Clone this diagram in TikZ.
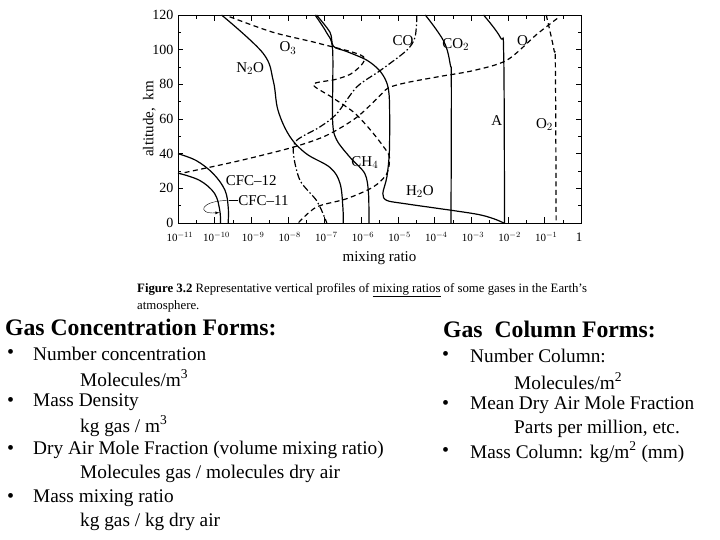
\documentclass[tikz,border=0pt]{standalone}
\usepackage{fontspec}
\setmainfont{Liberation Serif}
\begin{document}
\begin{tikzpicture}[x=1pt,y=-1pt,
  crv/.style={line width=1.2pt},
  dsh/.style={line width=1.2pt,dash pattern=on 5pt off 3.5pt},
  dd/.style={line width=1.2pt,dash pattern=on 7pt off 2.5pt on 1.5pt off 2.5pt},
  lab/.style={font=\fontsize{15}{15}\selectfont,inner sep=0pt},
  tk/.style={font=\fontsize{11}{11}\selectfont,inner sep=0pt},
  head/.style={font=\fontsize{23.7}{23.7}\selectfont\bfseries,inner sep=0pt,anchor=west},
  item/.style={font=\fontsize{19.3}{19.3}\selectfont,inner sep=0pt,anchor=west},
  bul/.style={font=\fontsize{20}{20}\selectfont,inner sep=0pt,anchor=west},
  capt/.style={font=\fontsize{12.8}{12.8}\selectfont,inner sep=0pt,anchor=west}]
\useasboundingbox (0,0) rectangle (720,540);
\fill[white] (0,0) rectangle (720,540);
\begin{scope}[shift={(178,223)},x=36.64pt,y=1.733pt]
 \draw[line width=0.9pt] (0,0) rectangle (11,120);
 \foreach \d in {0,...,11}{\draw (\d,0) -- (\d,3.5); \draw (\d,120) -- (\d,116.5);}
 \foreach \d in {0,...,10}{\draw (\d+0.5,0) -- (\d+0.5,2); \draw (\d+0.5,120) -- (\d+0.5,118);}
 \foreach \h in {0,20,...,120}{\draw (0,\h) -- (0.15,\h); \draw (11,\h) -- (10.85,\h);
   \node[tk,anchor=east,font=\fontsize{14}{14}\selectfont] (y\h) at (-0.12,\h) {\h};}
 \foreach \h in {10,30,...,110}{\draw (0,\h) -- (0.08,\h); \draw (11,\h) -- (10.92,\h);}
 \foreach \d/\t in {0/{-11},1/{-10},2/{-9},3/{-8},4/{-7},5/{-6},6/{-5},7/{-4},8/{-3},9/{-2},10/{-1}}
   {\node[tk] (x\d) at (\d+0.05,-8) {10$^{\t}$};}
 \node[tk,font=\fontsize{13}{13}\selectfont] (x11) at (10.95,-8) {1};
 \node[lab] (xl) at (5.5,-20) {mixing ratio};
 \node[lab,rotate=90] (yl) at (-0.78,60) {altitude,\ \ km};
 % N2O
 \draw[crv] plot[smooth,tension=0.6] coordinates{(1.19,120)(2.32,98)(2.6,82)(2.73,65)(3.05,50)(3.5,40)(4.15,32)(4.42,23)(4.5,9)(4.51,0)};
 % CH4
 \draw[crv] plot[smooth,tension=0.5] coordinates{(3.74,120)(4.05,110)(4.22,100)(4.22,59)(4.33,48)(4.69,38)(5.1,28.5)(5.2,17)(5.21,0)};
 % H2O
 \draw[crv] plot[smooth,tension=0.5] coordinates{(3.78,120)(4.15,110)(4.24,102)(4.6,99)(5.15,94)(5.5,88)(5.7,80.8)(5.77,70.8)(5.77,42)(5.7,26.5)(5.59,17)(5.7,13)(6.24,11)(8.07,5.4)(8.61,2.5)(8.89,0)};
 % CO2
 \draw[crv] plot[smooth,tension=0.6] coordinates{(6.75,120)(7.25,105)(7.43,91.5)(7.46,80)(7.45,0)};
 % A
 \draw[crv] plot[smooth,tension=0.6] coordinates{(8.34,120)(8.8,107)(8.89,96)(8.91,0)};
 % CFC-12, CFC-11
 \draw[crv] plot[smooth,tension=0.6] coordinates{(0,40)(0.5,36)(0.96,28.5)(1.28,19)(1.37,9.2)(1.37,0)};
 \draw[crv] plot[smooth,tension=0.6] coordinates{(0,28.8)(0.59,24.6)(1.0,17)(1.14,7.3)(1.16,0)};
 % O2
 \draw[dsh] plot[smooth,tension=0.6] coordinates{(10.05,120)(10.26,100)(10.3,90)(10.32,0)};
 % O3
 \draw[dsh] plot[smooth,tension=0.5] coordinates{(1.41,119)(2.6,110)(3.87,103.5)(5.06,96)(4.79,87)(4.33,83)(3.69,80)(4.19,72.7)(4.79,64)(5.24,54)(5.61,44)(5.77,38)(5.7,28.5)(5.33,20.8)(4.6,14)(3.78,9.2)(3.28,0)};
 % O
 \draw[dsh] plot[smooth,tension=0.5] coordinates{(10.35,118)(9.8,109)(8.98,94)(8.07,88)(7.16,84.6)(6.24,81)(5.74,78)(5.52,73.7)(4.88,61)(4.06,50.6)(3.15,43.8)(1.69,36)(0.05,28.5)};
 % CO
 \draw[dd] plot[smooth,tension=0.5] coordinates{(6.52,120)(6.47,107.3)(6.24,99.6)(5.52,88)(4.88,78.5)(4.33,63)(3.87,55.4)(3.24,47.7)(3.15,40)(3.33,24.6)(3.78,13)(4.0,3.3)(4.06,0)};
 % labels
 \node[lab] (lO3) at (3.0,101) {O$_3$};
 \node[lab] (lN2O) at (1.97,89) {N$_2$O};
 \node[lab] (lCO) at (6.14,105) {CO};
 \node[lab] (lCO2) at (7.58,103) {CO$_2$};
 \node[lab] (lO) at (9.4,105) {O};
 \node[lab] (lA) at (8.7,59) {A};
 \node[lab] (lO2) at (10.0,57) {O$_2$};
 \node[lab] (lCH4) at (5.1,35) {CH$_4$};
 \node[lab] (lH2O) at (6.6,18) {H$_2$O};
 \node[lab] (lC12) at (2.0,24.5) {CFC--12};
 \node[lab,anchor=west] (lC11) at (1.64,13) {CFC--11};
 \coordinate (c11) at (1.38,13);
 \draw (lC11.west) -- (c11);
 \draw[-latex] (c11) .. controls (0.6,13) and (0.5,5) .. (1.13,6);
\end{scope}
\node[capt] (cap1) at (137,290) {\textbf{Figure 3.2} Representative vertical profiles of \underline{mixing ratios} of some gases in the Earth's};
\node[capt] (cap2) at (137,306) {atmosphere.};
\node[head] (h1) at (5,327) {Gas Concentration Forms:};
\foreach \y in {354,402,450,498}{\node[bul] at (7,\y) {•};}
\node[item] (a1) at (33,354) {Number concentration};
\node[item] (a2) at (80,378) {Molecules/m\textsuperscript{3}};
\node[item] (a3) at (33,402) {Mass Density};
\node[item] (a4) at (80,426) {kg gas / m\textsuperscript{3}};
\node[item] (a5) at (33,450) {Dry Air Mole Fraction (volume mixing ratio)};
\node[item] (a6) at (80,474) {Molecules gas / molecules dry air};
\node[item] (a7) at (33,498) {Mass mixing ratio};
\node[item] (a8) at (80,522) {kg gas / kg dry air};
\node[head] (h2) at (443,329) {Gas\ \ Column Forms:};
\foreach \y in {356,405,452}{\node[bul] at (442,\y) {•};}
\node[item] (b1) at (470,356) {Number Column:};
\node[item] (b2) at (514,381) {Molecules/m\textsuperscript{2}};
\node[item] (b3) at (470,405) {Mean Dry Air Mole Fraction};
\node[item] (b4) at (514,429) {Parts per million, etc.};
\node[item] (b5) at (470,452) {Mass Column: kg/m\textsuperscript{2} (mm)};
\end{tikzpicture}
\end{document}
